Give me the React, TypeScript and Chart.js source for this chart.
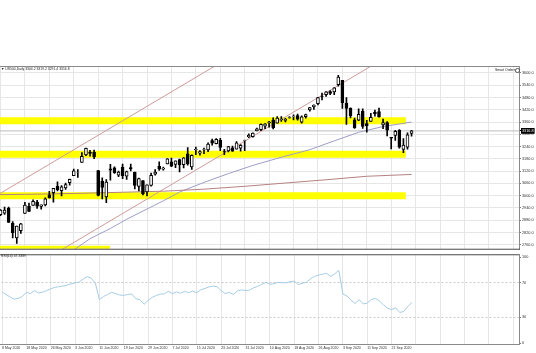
import React, { useEffect, useRef } from "react";
import { Chart, registerables } from "chart.js";

Chart.register(...registerables);

// ---------- data ----------
const dates = [
  "8 May 2020", "11 May 2020", "12 May 2020", "13 May 2020", "14 May 2020", "15 May 2020",
  "18 May 2020", "19 May 2020", "20 May 2020", "21 May 2020", "22 May 2020", "25 May 2020",
  "26 May 2020", "27 May 2020", "28 May 2020", "29 May 2020", "1 Jun 2020", "2 Jun 2020",
  "3 Jun 2020", "4 Jun 2020", "5 Jun 2020", "8 Jun 2020", "9 Jun 2020", "10 Jun 2020",
  "11 Jun 2020", "12 Jun 2020", "15 Jun 2020", "16 Jun 2020", "17 Jun 2020", "18 Jun 2020",
  "19 Jun 2020", "22 Jun 2020", "23 Jun 2020", "24 Jun 2020", "25 Jun 2020", "26 Jun 2020",
  "29 Jun 2020", "30 Jun 2020", "1 Jul 2020", "2 Jul 2020", "3 Jul 2020", "6 Jul 2020",
  "7 Jul 2020", "8 Jul 2020", "9 Jul 2020", "10 Jul 2020", "13 Jul 2020", "14 Jul 2020",
  "15 Jul 2020", "16 Jul 2020", "17 Jul 2020", "20 Jul 2020", "21 Jul 2020", "22 Jul 2020",
  "23 Jul 2020", "24 Jul 2020", "27 Jul 2020", "28 Jul 2020", "29 Jul 2020", "30 Jul 2020",
  "31 Jul 2020", "3 Aug 2020", "4 Aug 2020", "5 Aug 2020", "6 Aug 2020", "7 Aug 2020",
  "10 Aug 2020", "11 Aug 2020", "12 Aug 2020", "13 Aug 2020", "14 Aug 2020", "17 Aug 2020",
  "18 Aug 2020", "19 Aug 2020", "20 Aug 2020", "21 Aug 2020", "24 Aug 2020", "25 Aug 2020",
  "26 Aug 2020", "27 Aug 2020", "28 Aug 2020", "31 Aug 2020", "1 Sep 2020", "2 Sep 2020",
  "3 Sep 2020", "4 Sep 2020", "7 Sep 2020", "8 Sep 2020", "9 Sep 2020", "10 Sep 2020",
  "11 Sep 2020", "14 Sep 2020", "15 Sep 2020", "16 Sep 2020", "17 Sep 2020", "18 Sep 2020",
  "21 Sep 2020", "22 Sep 2020", "23 Sep 2020", "24 Sep 2020", "25 Sep 2020", "28 Sep 2020",
];

const opens = [
  2908, 2915, 2939, 2865, 2794, 2829, 2913, 2948, 2953, 2969, 2948, 2955,
  3004, 3015, 3046, 3025, 3038, 3064, 3098, 3111, 3163, 3199, 3213, 3213,
  3123, 3071, 2994, 3131, 3136, 3101, 3140, 3095, 3138, 3115, 3046, 3074,
  3018, 3050, 3105, 3144, 3130, 3155, 3166, 3153, 3176, 3152, 3205, 3141,
  3225, 3208, 3224, 3224, 3269, 3254, 3271, 3218, 3219, 3234, 3227, 3232,
  3270, 3288, 3289, 3317, 3323, 3340, 3356, 3370, 3355, 3372, 3368, 3380,
  3387, 3392, 3360, 3386, 3419, 3435, 3450, 3486, 3494, 3509, 3507, 3543,
  3564, 3453, 3427, 3371, 3369, 3412, 3352, 3363, 3407, 3411, 3346, 3357,
  3285, 3295, 3320, 3226, 3237, 3304.2,
];
const highs = [
  2932, 2945, 2945, 2874, 2852, 2865, 2968, 2964, 2980, 2978, 2956, 2990,
  3021, 3036, 3068, 3049, 3062, 3081, 3130, 3128, 3211, 3233, 3222, 3223,
  3124, 3088, 3079, 3153, 3141, 3120, 3155, 3120, 3155, 3116, 3086, 3074,
  3053, 3111, 3128, 3165, 3140, 3182, 3184, 3171, 3179, 3186, 3235, 3200,
  3238, 3220, 3233, 3258, 3277, 3279, 3280, 3227, 3241, 3243, 3264, 3250,
  3272, 3302, 3307, 3330, 3351, 3352, 3364, 3381, 3387, 3387, 3378, 3387,
  3395, 3399, 3390, 3399, 3432, 3444, 3481, 3501, 3509, 3514, 3528, 3588,
  3564, 3479, 3430, 3379, 3424, 3425, 3368, 3402, 3419, 3428, 3375, 3362,
  3285, 3320, 3323, 3279, 3307, 3319.2,
];
const lows = [
  2902, 2909, 2869, 2794, 2767, 2816, 2913, 2922, 2953, 2938, 2934, 2950,
  2988, 2969, 3023, 2999, 3031, 3052, 3098, 3090, 3163, 3196, 3193, 3181,
  2999, 2984, 2966, 3076, 3109, 3093, 3083, 3080, 3121, 3033, 3024, 3004,
  2999, 3047, 3101, 3124, 3125, 3155, 3142, 3137, 3116, 3136, 3149, 3128,
  3200, 3198, 3205, 3215, 3247, 3253, 3220, 3200, 3214, 3216, 3227, 3218,
  3220, 3284, 3286, 3317, 3318, 3328, 3335, 3326, 3355, 3363, 3361, 3379,
  3370, 3369, 3355, 3379, 3413, 3422, 3444, 3468, 3485, 3494, 3494, 3535,
  3427, 3349, 3380, 3329, 3367, 3329, 3310, 3363, 3389, 3384, 3328, 3292,
  3229, 3270, 3232, 3210, 3228, 3291.4,
];
const closes = [
  2930, 2930, 2870, 2820, 2852, 2863, 2954, 2923, 2972, 2949, 2955, 2985,
  2991, 3036, 3029, 3044, 3055, 3080, 3122, 3112, 3193, 3232, 3207, 3190,
  3002, 3041, 3067, 3125, 3113, 3115, 3098, 3118, 3131, 3050, 3084, 3009,
  3053, 3100, 3116, 3130, 3135, 3180, 3145, 3170, 3152, 3185, 3155, 3197,
  3227, 3216, 3225, 3252, 3257, 3276, 3236, 3216, 3240, 3218, 3258, 3246,
  3271, 3295, 3306, 3327, 3349, 3351, 3360, 3333, 3380, 3373, 3373, 3382,
  3389, 3374, 3385, 3397, 3431, 3443, 3479, 3485, 3508, 3500, 3527, 3580,
  3455, 3427, 3390, 3332, 3398, 3339, 3341, 3383, 3401, 3385, 3357, 3320,
  3281, 3315, 3237, 3247, 3298, 3316.8,
];

const rsi14 = [
  59.4, 56.5, 53.5, 51, 52, 54, 59, 57.5, 61, 58.3,
  59.2, 61, 63, 64.8, 65.5, 66.3, 67.3, 68.8, 70, 70.8,
  74.5, 77.2, 75.4, 69.7, 50.5, 54, 56.5, 59, 57.5, 55.8,
  55.5, 56.5, 57, 51.5, 50.5, 45.1, 49.6, 53.2, 55.3, 57,
  57.2, 60.2, 57.5, 59.5, 58, 60.2, 58.5, 60.5, 58.5, 62,
  63.5, 65.3, 66.2, 65.5, 61, 57.5, 59, 56.5, 60.5, 61.8,
  61, 61.5, 64.2, 65.9, 68.2, 70.5, 68.5, 69, 70.5, 70.2,
  70, 71.5, 72, 68, 69.5, 70.7, 74.5, 77.5, 79, 80,
  81, 77.5, 80.5, 84.5, 57, 54.8, 50, 46, 50.5, 45.5,
  46.5, 50.5, 52, 48.9, 44.5, 40.5, 39, 41, 35.6, 36.8,
  42.5, 47.3,
];

const priceTicks = [3600, 3540, 3480, 3420, 3360, 3300, 3240, 3180, 3120, 3060, 3000, 2940, 2880, 2820, 2760];
const rsiTicks = [0, 30, 70, 100];
const dateTickStep = 6;
const bidPrice = 3316.8;
const symbolName = "US500,Daily";
const headerOHLC = ["3304.2", "3319.2", "3291.4", "3316.8"];
const rsiName = "RSI(14)";
const rsiValueLabel = "47.3389";

// horizontal zones (price level, last bar index reached)
const zoneLevels = [3366, 3203, 3000, 2739];
const zoneEnds = [99.6, 99.6, 99.6, 26.9];

// moving averages (bar index, value)
const maFastIdx = [18, 22, 27, 31, 36, 40, 44, 50, 56, 62, 69, 76, 82, 88, 94, 101];
const maFastVals = [2735, 2790, 2840, 2885, 2935, 2975, 3018, 3065, 3108, 3148, 3188, 3225, 3268, 3310, 3338, 3360];
const maSlowIdx = [-1, 10, 20, 30, 40, 50, 60, 70, 80, 90, 101];
const maSlowVals = [3005, 3008, 3012, 3017, 3022, 3032, 3046, 3062, 3078, 3095, 3104];

// trend channel lines (bar index, price)
const channelUpperIdx = [-0.2, 60];
const channelUpperVals = [3010, 3720];
const channelLowerIdx = [10, 95];
const channelLowerVals = [2677, 3680];

// axis ranges
const X_MIN = -0.123;
const X_MAX = 127.4;
const Y_MIN = 2741;
const Y_MAX = 3629;
const RSI_MIN = -1;
const RSI_MAX = 102;

const FONT_FAMILY = "'Liberation Sans', Arial, sans-serif";

export default function App() {
  const mainRef = useRef<HTMLCanvasElement>(null);
  const rsiRef = useRef<HTMLCanvasElement>(null);

  useEffect(() => {
    const xTicks: number[] = [];
    for (let v = 0; v <= X_MAX; v += dateTickStep) xTicks.push(v);

    const hline = (ctx: CanvasRenderingContext2D, x1: number, y1: number, x2: number, y2: number, color: string) => {
      ctx.save();
      ctx.strokeStyle = color;
      ctx.lineWidth = 1;
      ctx.beginPath();
      ctx.moveTo(x1, y1);
      ctx.lineTo(x2, y2);
      ctx.stroke();
      ctx.restore();
    };

    const mainFrame = {
      id: "mainFrame",
      afterDraw(chart: any) {
        const { ctx, chartArea: a } = chart;
        hline(ctx, 0, a.top - 0.5, a.right + 1, a.top - 0.5, "#8a8a8a");
        hline(ctx, a.right + 0.5, a.top - 1, a.right + 0.5, a.bottom + 1, "#8a8a8a");
        hline(ctx, 0, a.bottom + 0.5, a.right + 1, a.bottom + 0.5, "#4a4a4a");
      },
    };
    const subFrame = {
      id: "subFrame",
      afterDraw(chart: any) {
        const { ctx, chartArea: a } = chart;
        hline(ctx, 0, a.top - 0.5, a.right + 1, a.top - 0.5, "#4a4a4a");
        hline(ctx, a.right + 0.5, a.top - 1, a.right + 0.5, a.bottom + 1, "#8a8a8a");
        hline(ctx, 0, a.bottom + 0.5, a.right + 1, a.bottom + 0.5, "#8a8a8a");
      },
    };

    const lineDs = (pts: { x: number; y: number }[], color: string, width: number, order: number) => ({
      type: "line" as const,
      data: pts,
      borderColor: color,
      borderWidth: width,
      pointRadius: 0,
      tension: 0,
      order,
      clip: 0,
      borderCapStyle: "butt",
    });

    const datasets: any[] = [];
    zoneLevels.forEach((lv, k) => {
      datasets.push(lineDs([{ x: X_MIN, y: lv }, { x: zoneEnds[k], y: lv }], "#ffff00", 7, 30));
    });
    datasets.push(lineDs([{ x: X_MIN, y: bidPrice }, { x: X_MAX, y: bidPrice }], "#bdbdbd", 1, 25));
    datasets.push(lineDs(maSlowIdx.map((x, k) => ({ x, y: maSlowVals[k] })), "#b58282", 1, 20));
    datasets.push(lineDs(maFastIdx.map((x, k) => ({ x, y: maFastVals[k] })), "#9d9dc8", 1, 20));
    datasets.push(lineDs(channelUpperIdx.map((x, k) => ({ x, y: channelUpperVals[k] })), "#cf9b9b", 1, 20));
    datasets.push(lineDs(channelLowerIdx.map((x, k) => ({ x, y: channelLowerVals[k] })), "#cf9b9b", 1, 20));
    datasets.push({
      type: "bar",
      data: closes.map((_, i) => ({ x: i, y: [lows[i], highs[i]] })),
      backgroundColor: "#000",
      borderWidth: 0,
      barThickness: 1,
      grouped: false,
      order: 2,
      clip: 0,
    });
    datasets.push({
      type: "bar",
      data: closes.map((c, i) => ({ x: i, y: [opens[i], c] })),
      backgroundColor: closes.map((c, i) => (c >= opens[i] ? "#ffffff" : "#000000")),
      borderColor: "#000",
      borderWidth: 1,
      borderSkipped: false,
      barThickness: 3,
      grouped: false,
      order: 1,
      clip: 0,
    });

    const main = new Chart(mainRef.current!, {
      type: "bar",
      data: { datasets },
      options: {
        responsive: false,
        animation: false,
        events: [],
        layout: { padding: { top: 67, bottom: 1, left: 0, right: 0 } },
        plugins: { legend: { display: false }, tooltip: { enabled: false }, title: { display: false } },
        scales: {
          x: {
            type: "linear",
            min: X_MIN,
            max: X_MAX,
            offset: false,
            grid: { color: "#e6e6e6", drawTicks: false, offset: false },
            border: { display: false },
            ticks: { display: false, autoSkip: false },
            afterBuildTicks: (s: any) => {
              s.ticks = xTicks.map((v) => ({ value: v }));
            },
            afterFit: (s: any) => {
              s.height = 0;
            },
          },
          y: {
            type: "linear",
            position: "right",
            min: Y_MIN,
            max: Y_MAX,
            beginAtZero: false,
            grid: {
              color: (c: any) => (c.tick && c.tick.value === bidPrice ? "rgba(0,0,0,0)" : "#e6e6e6"),
              tickColor: (c: any) => (c.tick && c.tick.value === bidPrice ? "#000" : "#777"),
              tickLength: 2,
              drawTicks: true,
            },
            border: { display: false },
            ticks: {
              autoSkip: false,
              padding: 1,
              font: { family: FONT_FAMILY, size: 3.8 },
              color: (c: any) => (c.tick && c.tick.value === bidPrice ? "#ffffff" : "#333333"),
              showLabelBackdrop: true,
              backdropColor: (c: any) => (c.tick && c.tick.value === bidPrice ? "#000000" : "rgba(0,0,0,0)"),
              backdropPadding: { top: 0.6, bottom: 0.6, left: 1, right: 1 },
              callback: (v: any) => Number(v).toFixed(1),
            },
            afterBuildTicks: (s: any) => {
              s.ticks = [...priceTicks, bidPrice].map((v) => ({ value: v }));
            },
            afterFit: (s: any) => {
              s.width = 17;
            },
          },
        },
      } as any,
      plugins: [mainFrame],
    });

    const sub = new Chart(rsiRef.current!, {
      type: "line",
      data: {
        datasets: [
          {
            data: rsi14.map((v, i) => ({ x: i, y: v })),
            borderColor: "#a6cde6",
            borderWidth: 1,
            pointRadius: 0,
            tension: 0,
            clip: 0,
          } as any,
        ],
      },
      options: {
        responsive: false,
        animation: false,
        events: [],
        layout: { padding: { top: 1, bottom: 0, left: 0, right: 0 } },
        plugins: { legend: { display: false }, tooltip: { enabled: false } },
        scales: {
          x: {
            type: "linear",
            min: X_MIN,
            max: X_MAX,
            grid: { color: "#e6e6e6", drawTicks: false },
            border: { display: false },
            ticks: {
              autoSkip: false,
              maxRotation: 0,
              minRotation: 0,
              align: "start",
              padding: 2,
              font: { family: FONT_FAMILY, size: 3.5 },
              color: "#333333",
              callback: (v: any) => (v < dates.length ? dates[v] : ""),
            },
            afterBuildTicks: (s: any) => {
              s.ticks = xTicks.map((v) => ({ value: v }));
            },
            afterFit: (s: any) => {
              s.height = 9;
            },
          },
          y: {
            type: "linear",
            position: "right",
            min: RSI_MIN,
            max: RSI_MAX,
            grid: {
              color: (c: any) => (c.tick && (c.tick.value === 30 || c.tick.value === 70) ? "#c8c8c8" : "rgba(0,0,0,0)"),
              tickColor: "#777",
              tickLength: 2,
            },
            border: { display: false, dash: [2, 2] },
            ticks: {
              autoSkip: false,
              padding: 1,
              font: { family: FONT_FAMILY, size: 3.8 },
              color: "#333333",
              callback: (v: any) => String(v),
            },
            afterBuildTicks: (s: any) => {
              s.ticks = rsiTicks.map((v) => ({ value: v }));
            },
            afterFit: (s: any) => {
              s.width = 17;
            },
          },
        },
      } as any,
      plugins: [subFrame],
    });

    return () => {
      main.destroy();
      sub.destroy();
    };
  }, []);

  const tiny: React.CSSProperties = {
    position: "absolute",
    fontFamily: FONT_FAMILY,
    fontSize: 6.8,
    lineHeight: "8px",
    transform: "scale(0.5)",
    transformOrigin: "0 0",
    whiteSpace: "nowrap",
    color: "#222",
  };

  return (
    <div
      style={{
        position: "fixed",
        left: 0,
        top: 0,
        width: 536,
        height: 353,
        background: "#ffffff",
        overflow: "hidden",
      }}
    >
      <canvas ref={mainRef} width={536} height={252} style={{ position: "absolute", left: 0, top: 0 }} />
      <canvas ref={rsiRef} width={536} height={101} style={{ position: "absolute", left: 0, top: 252 }} />
      <div style={{ ...tiny, left: 1, top: 67 }}>
        {"▼ " + symbolName + "  " + headerOHLC.join(" ")}
      </div>
      <div style={{ ...tiny, left: 495, top: 67.5 }}>Smart Orders</div>
      <div
        style={{
          position: "absolute",
          left: 515,
          top: 68,
          width: 2.5,
          height: 2.5,
          border: "0.6px solid #555",
          borderRadius: "50%",
        }}
      />
      <div style={{ ...tiny, left: 1, top: 253.5 }}>{rsiName + " " + rsiValueLabel}</div>
    </div>
  );
}
